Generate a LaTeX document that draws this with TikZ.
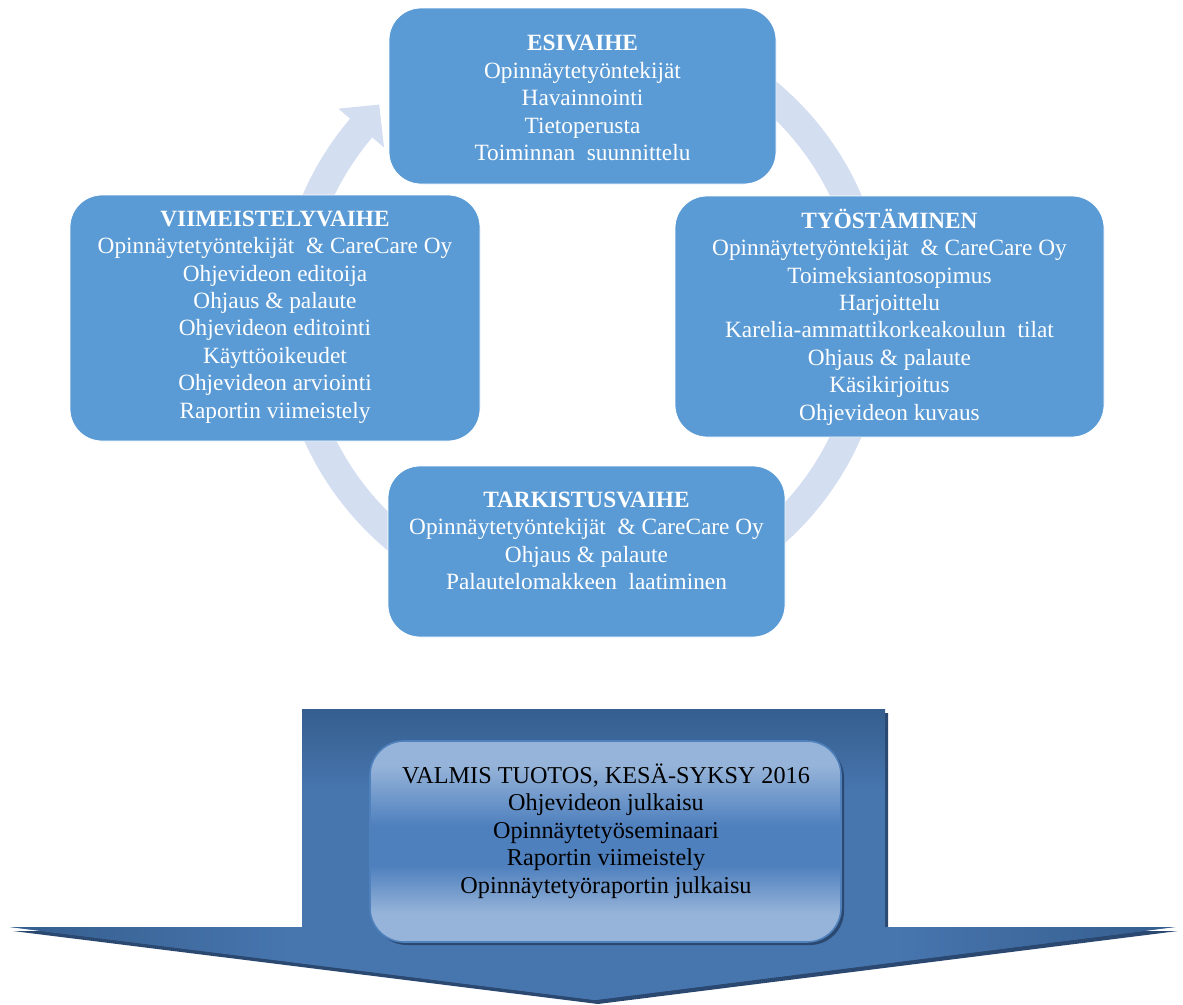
\documentclass[tikz,border=0pt]{standalone}
\usepackage{fontspec}
\setmainfont{Liberation Serif}
\usetikzlibrary{calc}
\definecolor{boxblue}{HTML}{5B9BD5}
\definecolor{ringblue}{HTML}{D3DEF0}
\definecolor{arrowdark}{HTML}{355E8E}
\definecolor{arrowlight}{HTML}{4775AE}
\definecolor{shadowblue}{HTML}{2A4870}
\definecolor{innerlight}{HTML}{96B4D9}
\definecolor{innermid}{HTML}{4F80BE}
\definecolor{innerborder}{HTML}{4F81BD}
\pgfdeclareverticalshading{arrowv}{100bp}{color(0bp)=(arrowlight); color(25bp)=(arrowlight); color(61bp)=(arrowlight); color(75bp)=(arrowdark); color(100bp)=(arrowdark)}
\pgfdeclarehorizontalshading{arrowh}{100bp}{color(0bp)=(arrowdark); color(25bp)=(arrowdark); color(37bp)=(arrowlight); color(63bp)=(arrowlight); color(75bp)=(arrowdark); color(100bp)=(arrowdark)}
\pgfdeclareverticalshading{innerv}{100bp}{color(0bp)=(innerlight); color(25bp)=(innerlight); color(32bp)=(innerlight); color(44bp)=(innermid); color(54bp)=(innermid); color(69bp)=(innerlight); color(75bp)=(innerlight); color(100bp)=(innerlight)}
\tikzset{
  cbox/.style={draw=white, line width=0.8pt, fill=boxblue, rounded corners=32pt, inner sep=0pt},
  txtwhite/.style={text=white, align=center, inner sep=0pt, font=\fontsize{23.3}{27.4}\selectfont},
  txtblack/.style={text=black, align=center, inner sep=0pt, font=\fontsize{24.2}{27.5}\selectfont},
  ringband/.style={draw=ringblue, line width=29pt, line cap=butt},
}
\begin{document}
\begin{tikzpicture}[x=1pt,y=-1pt]
\useasboundingbox (0,0) rectangle (1183,1004);
\coordinate (cen) at (582,316);
% ring segments
\draw[ringband] ($(cen)+(160:290)$) arc[start angle=160, end angle=220.6, radius=290];
\fill[ringblue] ($(cen)+(220.4:260)$) -- ($(cen)+(220.4:320)$) -- ($(cen)+(226.2:293)$) -- cycle;
\draw[ringband] ($(cen)+(265:290)$) arc[start angle=265, end angle=340, radius=290];
\draw[ringband] ($(cen)+(15:290)$) arc[start angle=15, end angle=75, radius=290];
\draw[ringband] ($(cen)+(105:290)$) arc[start angle=105, end angle=165, radius=290];
% boxes
\node[cbox, minimum width=387pt, minimum height=176pt] (esi) at (582.5,96) {};
\node[cbox, minimum width=410pt, minimum height=246pt] (viim) at (275,318) {};
\node[cbox, minimum width=429pt, minimum height=241pt] (tyo) at (889.5,316.5) {};
\node[cbox, minimum width=397pt, minimum height=171pt] (tark) at (586.5,551.5) {};
\node[txtwhite] (esitxt) at (582.5,98) {\textbf{ESIVAIHE}\\Opinnäytetyöntekijät\\Havainnointi\\Tietoperusta\\Toiminnan~ suunnittelu};
\node[txtwhite] (viimtxt) at (275,317) {\textbf{VIIMEISTELYVAIHE}\\Opinnäytetyöntekijät~ \& CareCare Oy\\Ohjevideon editoija\\Ohjaus \& palaute\\Ohjevideon editointi\\Käyttöoikeudet\\Ohjevideon arviointi\\Raportin viimeistely};
\node[txtwhite] (tyotxt) at (889.5,317) {\textbf{TYÖSTÄMINEN}\\Opinnäytetyöntekijät~ \& CareCare Oy\\Toimeksiantosopimus\\Harjoittelu\\Karelia-ammattikorkeakoulun~ tilat\\Ohjaus \& palaute\\Käsikirjoitus\\Ohjevideon kuvaus};
\node[txtwhite] (tarktxt) at (586.5,541) {\textbf{TARKISTUSVAIHE}\\Opinnäytetyöntekijät~ \& CareCare Oy\\Ohjaus \& palaute\\Palautelomakkeen~ laatiminen};
% big down arrow
\begin{scope}[shift={(3,4)}]
\fill[shadowblue] (302,709) -- (885,709) -- (885,927) -- (1175,927) -- (595,1000) -- (10,927) -- (302,927) -- cycle;
\end{scope}
\shade[shading=arrowv] (302,709) -- (885,709) -- (885,927) -- (1175,927) -- (595,1000) -- (10,927) -- (302,927) -- cycle;
\shade[shading=arrowh] (10,927) -- (1175,927) -- (595,1000) -- cycle;
% inner box
\node[fill=shadowblue, rounded corners=34pt, minimum width=471pt, minimum height=201pt, inner sep=0pt] (valmisshadow) at (608.5,844.5) {};
\node[shade, shading=innerv, draw=innerborder, line width=1.6pt, rounded corners=34pt, minimum width=471pt, minimum height=201pt, inner sep=0pt] (valmis) at (605.5,841.5) {};
\node[txtblack] (valmistxt) at (606,831) {VALMIS TUOTOS, KESÄ-SYKSY 2016\\Ohjevideon julkaisu\\Opinnäytetyöseminaari\\Raportin viimeistely\\Opinnäytetyöraportin julkaisu};
\end{tikzpicture}
\end{document}
